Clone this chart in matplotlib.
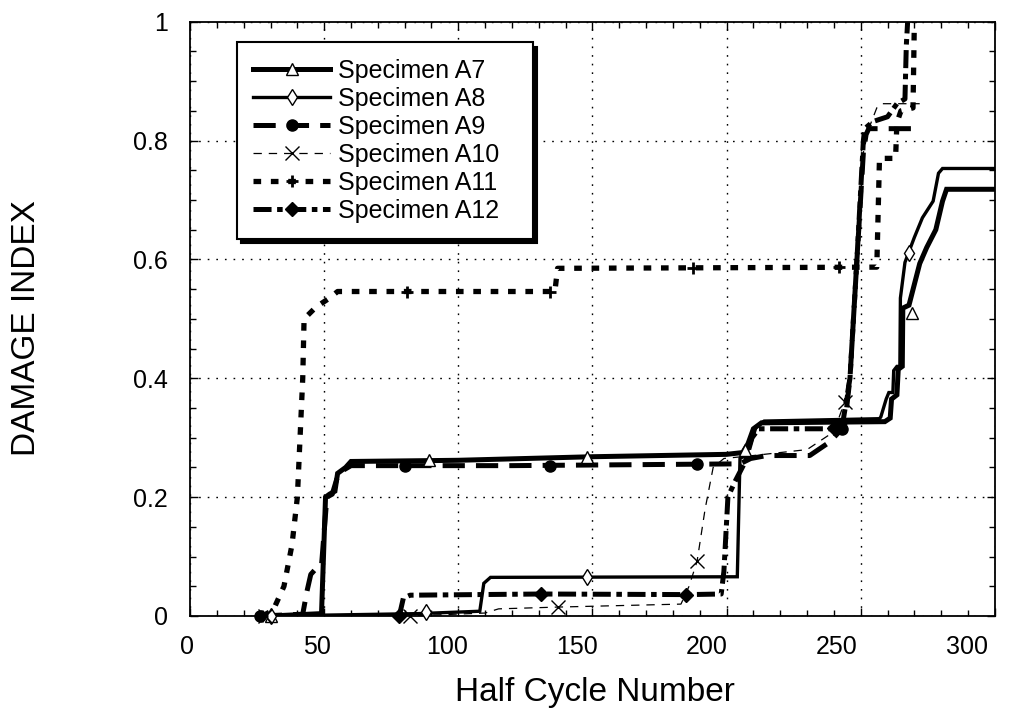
import matplotlib
matplotlib.use('Agg')
import matplotlib.pyplot as plt
from matplotlib.lines import Line2D
from matplotlib.ticker import MultipleLocator, FixedLocator
from matplotlib.transforms import ScaledTranslation

plt.rcParams['font.family'] = ['Liberation Sans', 'DejaVu Sans']
plt.rcParams['lines.scale_dashes'] = False

# ---------------- data ----------------
labels = ['Specimen A7', 'Specimen A8', 'Specimen A9',
          'Specimen A10', 'Specimen A11', 'Specimen A12']

a7_x = [30, 49, 50.5, 52, 54, 55, 58, 60, 100, 150, 200, 206, 208, 210, 213,
        259, 261, 261.5, 263.5, 264, 265.5, 265.7, 268, 272, 274.6, 278, 280.5, 282, 300]
a7_y = [0, 0.004, 0.2, 0.205, 0.21, 0.24, 0.25, 0.26, 0.262, 0.268, 0.272, 0.275, 0.29,
        0.315, 0.325, 0.327, 0.333, 0.365, 0.372, 0.415, 0.42, 0.518, 0.523, 0.593,
        0.62, 0.65, 0.698, 0.718, 0.718]
a7_mx = [30, 89, 148, 207, 269]
a7_my = [0, 0.262, 0.268, 0.28, 0.51]

a8_x = [30, 85, 108, 109.5, 112, 204, 205, 207, 209, 211, 214, 257, 257.5, 259.5,
        260.5, 262, 262.3, 263.5, 264.6, 264.8, 266.5, 270, 273, 277, 279, 280.5, 300]
a8_y = [0, 0.004, 0.008, 0.055, 0.065, 0.066, 0.265, 0.27, 0.29, 0.318, 0.328, 0.332,
        0.335, 0.365, 0.376, 0.376, 0.413, 0.42, 0.42, 0.535, 0.595, 0.637, 0.67,
        0.698, 0.745, 0.753, 0.753]
a8_mx = [30, 88, 148, 268]
a8_my = [0, 0.006, 0.066, 0.61]

a9_x = [26, 42, 43.5, 45, 47, 49, 51, 53, 55, 57, 60, 120, 205, 209, 215, 231,
        238.5, 242, 244, 246, 248.6, 251, 252, 253, 271]
a9_y = [0, 0.003, 0.04, 0.07, 0.08, 0.085, 0.2, 0.205, 0.235, 0.245, 0.253, 0.253,
        0.256, 0.265, 0.27, 0.27, 0.293, 0.31, 0.32, 0.4, 0.6, 0.78, 0.81, 0.82, 0.82]
a9_mx = [26, 80, 134, 189, 243]
a9_my = [0, 0.253, 0.253, 0.256, 0.315]

a10_x = [28, 82, 110, 115, 137, 183, 186, 189, 192, 195, 199, 210, 230, 240, 244,
         246, 248.6, 251, 253, 256, 258, 272]
a10_y = [0, 0, 0.005, 0.012, 0.015, 0.02, 0.05, 0.092, 0.18, 0.25, 0.265, 0.27, 0.28,
         0.31, 0.36, 0.42, 0.6, 0.78, 0.82, 0.855, 0.862, 0.862]
a10_mx = [28, 82, 137, 189, 244]
a10_my = [0, 0, 0.015, 0.092, 0.36]

a11_x = [27, 31, 35, 38, 40, 41, 42, 42.5, 47, 52, 55, 136, 137, 256, 257, 263,
         263.5, 265, 269.5, 270]
a11_y = [0, 0.01, 0.05, 0.12, 0.2, 0.3, 0.4, 0.5, 0.52, 0.535, 0.546, 0.546, 0.585,
         0.587, 0.77, 0.77, 0.83, 0.85, 0.855, 1.0]
a11_mx = [27, 81, 134, 187.5, 242]
a11_my = [0, 0.546, 0.546, 0.586, 0.587]

a12_x = [78, 79.5, 82, 131, 186, 198, 199, 200.5, 203, 207, 209.5, 212, 240, 243.5,
         246, 248.6, 251, 251.5, 254.6, 260, 263.5, 266.5, 267, 267.5]
a12_y = [0, 0.03, 0.035, 0.037, 0.036, 0.037, 0.075, 0.2, 0.225, 0.26, 0.3, 0.315,
         0.315, 0.33, 0.4, 0.6, 0.8, 0.82, 0.832, 0.84, 0.862, 0.87, 0.96, 1.0]
a12_mx = [78, 131, 185, 240]
a12_my = [0, 0.037, 0.036, 0.316]

x_ticks = [0, 50, 100, 150, 200, 250, 300]
y_ticks = [0, 0.2, 0.4, 0.6, 0.8, 1.0]
y_tick_labels = ['0', '0.2', '0.4', '0.6', '0.8', '1']

# ---------------- styles ----------------
styles = [
    dict(ls='-', lw=3.6, marker='^', ms=8, mfc='white', mec='black', mew=1.0),
    dict(ls='-', lw=2.4, marker='d', ms=8, mfc='white', mec='black', mew=1.0),
    dict(ls=(0, (16, 8)), lw=3.6, marker='o', ms=8, mfc='black', mec='black', mew=1.0),
    dict(ls=(0, (6, 5)), lw=0.9, marker='x', ms=10, mfc='black', mec='black', mew=1.0),
    dict(ls=(0, (5.5, 7)), lw=3.8, marker='+', ms=8, mfc='black', mec='black', mew=2.0),
    dict(ls=(0, (13, 4, 4, 4)), lw=3.6, marker='D', ms=7, mfc='black', mec='black', mew=1.0),
]

series = [(a7_x, a7_y, a7_mx, a7_my), (a8_x, a8_y, a8_mx, a8_my),
          (a9_x, a9_y, a9_mx, a9_my), (a10_x, a10_y, a10_mx, a10_my),
          (a11_x, a11_y, a11_mx, a11_my), (a12_x, a12_y, a12_mx, a12_my)]

fig = plt.figure(figsize=(10.11, 7.23), dpi=100)
ax = fig.add_axes([0.188, 0.148, 0.796, 0.822])

handles = []
for (xs, ys, mx, my), st in zip(series, styles):
    ax.plot(xs, ys, color='black', ls=st['ls'], lw=st['lw'],
            solid_joinstyle='miter', dash_capstyle='butt', zorder=3)
    ax.plot(mx, my, ls='none', marker=st['marker'], ms=st['ms'], mfc=st['mfc'],
            mec=st['mec'], mew=st['mew'], zorder=4, clip_on=False)
    handles.append(Line2D([], [], color='black', ls=st['ls'], lw=st['lw'],
                          marker=st['marker'], ms=st['ms'], mfc=st['mfc'],
                          mec=st['mec'], mew=st['mew']))

ax.set_xlim(0, 300)
ax.set_ylim(0, 1)
ax.xaxis.set_major_locator(FixedLocator(x_ticks))
ax.yaxis.set_major_locator(FixedLocator(y_ticks))
ax.set_yticklabels(y_tick_labels)
ax.xaxis.set_minor_locator(MultipleLocator(10))
ax.yaxis.set_minor_locator(MultipleLocator(0.05))
ax.tick_params(which='both', direction='in', top=True, right=True, color='black')
ax.tick_params(which='major', length=6, width=1.0)
ax.tick_params(which='minor', length=4, width=1.0)
ax.tick_params(axis='x', which='major', pad=14, labelsize=18)
ax.tick_params(axis='y', which='major', pad=16, labelsize=18)
for s in ax.spines.values():
    s.set_linewidth(1.3)

# the scanned reference has its x tick labels drawn slightly left of the ticks
for tk, xv in zip(ax.xaxis.get_major_ticks(), x_ticks):
    dx = -(3 + 25 * xv / 300.0) / 100.0
    tk.label1.set_transform(tk.label1.get_transform() +
                            ScaledTranslation(dx, 0, fig.dpi_scale_trans))

ax.grid(True, which='major', color='black', ls=(0, (1.2, 5)), lw=1.0)
ax.set_axisbelow(True)

ax.set_xlabel('Half Cycle Number', fontsize=24, va='center')
ax.set_ylabel('DAMAGE INDEX', fontsize=24, va='center')
ax.xaxis.set_label_coords(0.503, -0.128)
ax.yaxis.set_label_coords(-0.203, 0.484)

leg = ax.legend(handles, labels, loc='upper left',
                bbox_to_anchor=(0.058, 0.965, 0.368, 0), mode='expand',
                borderaxespad=0, fontsize=18, handlelength=3.1, handletextpad=0.3,
                labelspacing=0.16, borderpad=0.65, fancybox=False, framealpha=1,
                edgecolor='black', numpoints=1,
                shadow={'ox': 3, 'oy': -3, 'color': 'black', 'alpha': 1})
leg.get_frame().set_linewidth(1.5)
leg.set_zorder(10)

fig.savefig('out.png', dpi=100)
